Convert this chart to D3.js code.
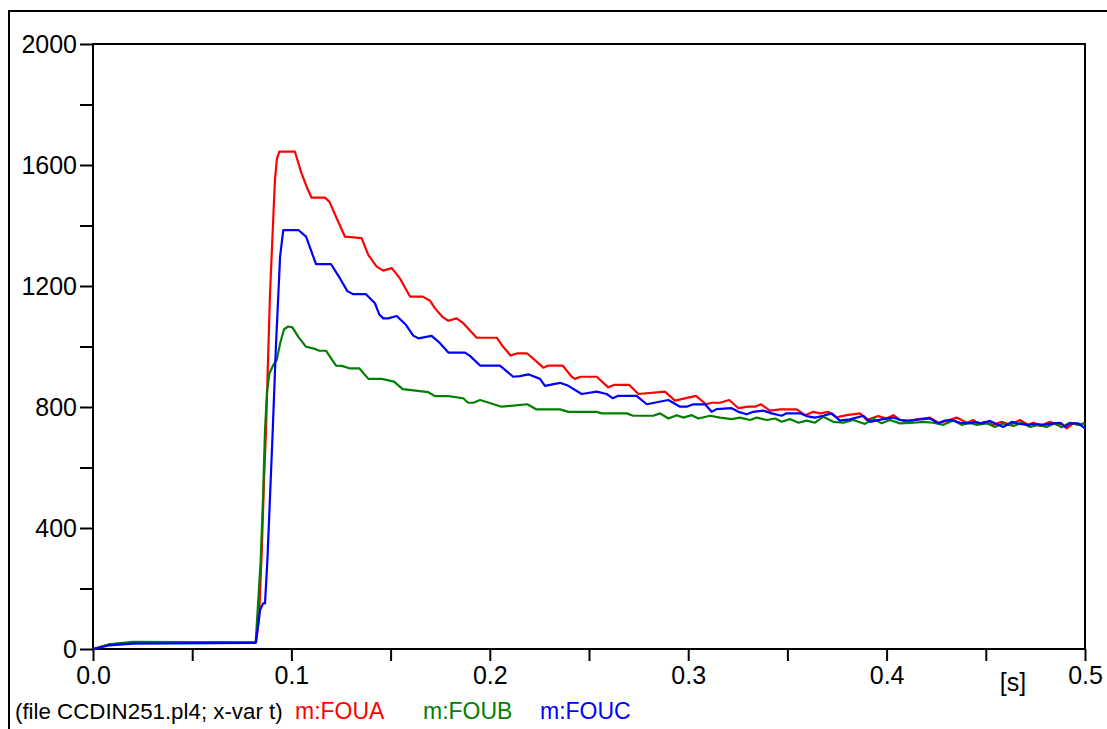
<!DOCTYPE html>
<html><head><meta charset="utf-8">
<script src="https://cdn.jsdelivr.net/npm/d3@7"></script>
<style>
html,body{margin:0;padding:0;background:#fff;}
svg{display:block;}
text{font-family:"Liberation Sans",Arial,sans-serif;}
</style></head>
<body>
<svg id="chart" width="1107" height="729"></svg>
<script>
// ---- data ----
const seriesNames = ["m:FOUA", "m:FOUB", "m:FOUC"];
const seriesColors = ["#ff0000", "#008000", "#0000ff"];
const yTickValues = [0, 200, 400, 600, 800, 1000, 1200, 1400, 1600, 1800, 2000];
const xTickValues = [0, 0.05, 0.1, 0.15, 0.2, 0.25, 0.3, 0.35, 0.4, 0.45, 0.5];
const fileLabel = "(file CCDIN251.pl4; x-var t)";
const unitLabel = "[s]";

const fouA = [[0,0],[0.008,15],[0.02,20],[0.0822,23],[0.0837,100],[0.0852,350],[0.0862,560],[0.0872,724],[0.0882,950],[0.0892,1170],[0.0906,1385],[0.0917,1550],[0.0927,1620],[0.0939,1644],[0.1018,1644],[0.1048,1578],[0.1080,1523],[0.1102,1492],[0.1169,1492],[0.1191,1479],[0.1270,1363],[0.1354,1358],[0.1388,1302],[0.1430,1264],[0.1463,1251],[0.1506,1259],[0.1547,1225],[0.1598,1165],[0.1662,1165],[0.1699,1151],[0.1724,1126],[0.1763,1097],[0.1791,1085],[0.1833,1093],[0.1866,1077],[0.1934,1029],[0.2035,1029],[0.2060,1005],[0.2105,970],[0.2136,977],[0.2189,977],[0.2270,930],[0.2295,937],[0.2367,937],[0.2413,900],[0.2429,893],[0.2458,900],[0.2539,900],[0.2597,865],[0.2626,873],[0.2703,873],[0.2749,843],[0.2883,851],[0.2933,821],[0.3039,837],[0.3090,809],[0.3118,814],[0.3160,814],[0.3207,823],[0.3253,796],[0.3303,801],[0.3337,801],[0.3367,809],[0.3412,788],[0.3463,792],[0.3547,792],[0.3589,773],[0.3631,784],[0.3664,779],[0.3706,784],[0.3748,766],[0.3799,773],[0.3866,779],[0.3900,757],[0.3958,770],[0.4000,762],[0.4034,773],[0.4068,757],[0.4109,751],[0.4152,759],[0.4219,765],[0.4261,748],[0.4303,754],[0.4353,765],[0.4404,748],[0.4437,757],[0.4462,744],[0.4496,751],[0.4538,741],[0.4580,751],[0.4622,741],[0.4672,757],[0.4714,741],[0.4740,748],[0.4773,737],[0.4824,751],[0.4857,741],[0.4882,746],[0.4908,729],[0.4941,746],[0.4975,741],[0.5,748]];

const fouB = [[0,0],[0.008,15],[0.02,24],[0.0820,22],[0.0832,150],[0.0845,290],[0.0857,500],[0.0867,724],[0.0877,850],[0.0889,911],[0.0909,939],[0.0926,955],[0.0943,1010],[0.0963,1057],[0.0984,1066],[0.1005,1063],[0.1035,1032],[0.1074,999],[0.1119,992],[0.1141,986],[0.1174,986],[0.1225,937],[0.1254,936],[0.1292,928],[0.1342,928],[0.1388,893],[0.1455,893],[0.1517,884],[0.1561,859],[0.1690,849],[0.1724,836],[0.1791,836],[0.1866,829],[0.1891,814],[0.1917,814],[0.1951,823],[0.2060,801],[0.2189,809],[0.2236,792],[0.2354,792],[0.2396,784],[0.2539,784],[0.2564,779],[0.2690,779],[0.2723,771],[0.2824,771],[0.2858,779],[0.2900,762],[0.2942,773],[0.2975,765],[0.3018,773],[0.3051,762],[0.3110,771],[0.3160,765],[0.3219,760],[0.3261,765],[0.3312,757],[0.3345,765],[0.3396,757],[0.3438,762],[0.3471,751],[0.3513,760],[0.3555,748],[0.3597,755],[0.3639,748],[0.3681,768],[0.3731,751],[0.3782,748],[0.3832,757],[0.3891,744],[0.3933,762],[0.3975,746],[0.4017,757],[0.4068,746],[0.4135,748],[0.4185,751],[0.4235,748],[0.4286,741],[0.4336,755],[0.4379,741],[0.4420,748],[0.4454,741],[0.4505,746],[0.4546,734],[0.4588,746],[0.4639,737],[0.4681,748],[0.4723,734],[0.4764,741],[0.4806,734],[0.4849,746],[0.4882,733],[0.4924,748],[0.4966,741],[0.5,746]];

const fouC = [[0,0],[0.008,12],[0.02,18],[0.0820,20],[0.0842,129],[0.0858,151],[0.0867,151],[0.0879,294],[0.0892,500],[0.0906,724],[0.0922,1000],[0.0943,1297],[0.0959,1385],[0.1035,1385],[0.1074,1363],[0.1124,1272],[0.1200,1272],[0.1245,1225],[0.1282,1183],[0.1312,1173],[0.1376,1173],[0.1421,1143],[0.1443,1106],[0.1463,1093],[0.1488,1093],[0.1531,1101],[0.1578,1071],[0.1614,1036],[0.1640,1027],[0.1707,1035],[0.1749,1011],[0.1791,980],[0.1875,980],[0.1900,969],[0.1951,937],[0.2051,937],[0.2118,900],[0.2152,902],[0.2194,908],[0.2253,893],[0.2278,870],[0.2354,880],[0.2396,870],[0.2463,843],[0.2539,851],[0.2589,843],[0.2619,829],[0.2648,837],[0.2740,837],[0.2791,809],[0.2900,823],[0.2959,801],[0.2992,801],[0.3026,809],[0.3085,809],[0.3118,784],[0.3143,793],[0.3219,796],[0.3253,784],[0.3295,776],[0.3328,784],[0.3379,788],[0.3421,779],[0.3471,771],[0.3496,779],[0.3564,779],[0.3597,770],[0.3639,765],[0.3681,771],[0.3723,779],[0.3765,755],[0.3816,759],[0.3883,771],[0.3916,751],[0.3975,759],[0.4034,765],[0.4068,757],[0.4109,755],[0.4168,759],[0.4219,762],[0.4261,746],[0.4294,755],[0.4328,757],[0.4370,748],[0.4420,746],[0.4446,751],[0.4479,746],[0.4521,754],[0.4546,746],[0.4588,734],[0.4631,751],[0.4672,744],[0.4714,741],[0.4748,744],[0.4790,741],[0.4840,746],[0.4874,748],[0.4899,734],[0.4924,746],[0.4966,746],[0.5,729]];

const seriesData = [fouA, fouB, fouC];

// ---- layout ----
const svg = d3.select("#chart");
const plotL = 93, plotR = 1085, plotT = 44, plotB = 649;
const tickFont = 25, legendFont = 23, fileFont = 22.3;

const x = d3.scaleLinear().domain([0, 0.5]).range([plotL, plotR]);
const y = d3.scaleLinear().domain([0, 2000]).range([plotB, plotT]);

// outer frame (top and left edges visible)
svg.append("path")
  .attr("d", `M9,729 L9,11 L1107,11`)
  .attr("fill", "none").attr("stroke", "#000").attr("stroke-width", 2);

// plot box
svg.append("rect")
  .attr("x", plotL).attr("y", plotT)
  .attr("width", plotR - plotL).attr("height", plotB - plotT)
  .attr("fill", "none").attr("stroke", "#000").attr("stroke-width", 2);

// y axis
const yAxis = d3.axisLeft(y).tickValues(yTickValues).tickSize(13).tickPadding(3)
  .tickFormat(d => d % 400 === 0 ? d3.format("d")(d) : "");
const gy = svg.append("g").attr("transform", `translate(${plotL},0)`).call(yAxis);
gy.select(".domain").remove();
gy.selectAll(".tick line").attr("stroke", "#000").attr("stroke-width", 2);
gy.selectAll(".tick text").attr("font-size", tickFont).attr("fill", "#000")
  .attr("font-family", "'Liberation Sans', Arial, sans-serif").attr("dy", "0.34em");

// x axis
const xAxis = d3.axisBottom(x).tickValues(xTickValues).tickSize(12).tickPadding(5)
  .tickFormat(d => (Math.round(d * 100) % 10 === 0) ? d3.format(".1f")(d) : "");
const gx = svg.append("g").attr("transform", `translate(0,${plotB})`).call(xAxis);
gx.select(".domain").remove();
gx.selectAll(".tick line").attr("stroke", "#000").attr("stroke-width", 2);
gx.selectAll(".tick text").attr("font-size", tickFont).attr("fill", "#000")
  .attr("font-family", "'Liberation Sans', Arial, sans-serif");

// unit label
svg.append("text").attr("x", 1013).attr("y", 691).attr("text-anchor", "middle")
  .attr("font-size", tickFont).attr("fill", "#000").text(unitLabel);

// lines
const line = d3.line().x(d => x(d[0])).y(d => y(d[1]));
seriesData.forEach((data, i) => {
  svg.append("path").datum(data)
    .attr("d", line)
    .attr("fill", "none")
    .attr("stroke", seriesColors[i])
    .attr("stroke-width", 2.2)
    .attr("stroke-linejoin", "round");
});

// legend
const legendY = 719;
svg.append("text").attr("x", 15).attr("y", legendY).attr("font-size", fileFont)
  .attr("fill", "#000").text(fileLabel);
const legendX = [295, 423, 540];
seriesNames.forEach((n, i) => {
  svg.append("text").attr("x", legendX[i]).attr("y", legendY).attr("font-size", legendFont)
    .attr("fill", seriesColors[i]).text(n);
});
</script>
</body></html>
